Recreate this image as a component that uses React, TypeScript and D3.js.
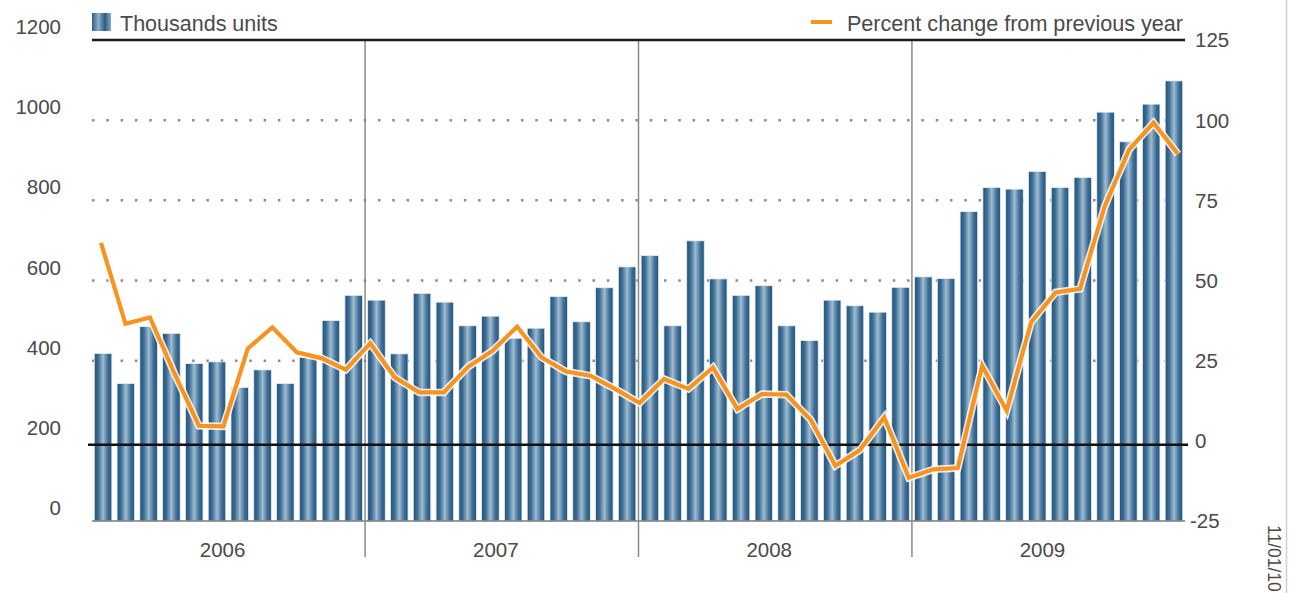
import React from "react";
import * as d3 from "d3";

const years = ["2006", "2007", "2008", "2009"];
const monthNames = ["Jan", "Feb", "Mar", "Apr", "May", "Jun", "Jul", "Aug", "Sep", "Oct", "Nov", "Dec"];
const months = years.flatMap((y) => monthNames.map((m) => `${m} ${y}`));

// Thousands units (bars)
const unitsThousands = [
  418, 343, 485, 468, 393, 397, 333, 377, 343, 408, 500, 563,
  551, 417, 568, 546, 487, 511, 456, 481, 560, 497, 582, 634,
  662, 487, 699, 604, 563, 587, 487, 450, 551, 537, 521, 583,
  609, 605, 772, 832, 828, 872, 832, 857, 1020, 946, 1040, 1098,
];

// Percent change from previous year (line, 45 points)
const pctChange = [
  61.7, 36.5, 38.5, 21, 4.7, 4.5, 28.8, 35.4, 27.6, 25.8, 22.2, 30.4,
  19.8, 15.1, 15.1, 23.1, 28.1, 35.6, 26, 21.6, 20.3, 16.2, 11.8,
  19.3, 16.2, 22.9, 9.9, 14.6, 14.4, 6.5, -7.8, -2.9, 7.3,
  -11.5, -8.9, -8.5, 23.4, 9.4, 37, 46.3, 47.4, 73, 90.8, 99.2, 89.4,
];

const leftTicks = [0, 200, 400, 600, 800, 1000, 1200];
const rightTicks = [-25, 0, 25, 50, 75, 100, 125];
const gridTicks = [25, 50, 75, 100];

const legendBars = "Thousands units";
const legendLine = "Percent change from previous year";
const dateStamp = "11/01/10";

const FONT = "'Liberation Sans', Arial, Helvetica, sans-serif";
const TEXT = "#4a4a4a";
const ORANGE = "#f7931e";

export default function App() {
  const W = 1290, H = 593;
  const plotL = 92, plotR = 1185, plotT = 40, plotB = 521;

  const x = d3.scaleBand<string>().domain(months).range([plotL, plotR]).paddingInner(0.23).paddingOuter(0.1);
  const yL = d3.scaleLinear().domain([0, 1200]).range([plotB, plotT]);
  const yR = d3.scaleLinear().domain([-25, 125]).range([plotB, plotT]);
  const xLine = d3.scaleLinear().domain([0, pctChange.length - 1]).range([101, 1178]);
  const lineGen = d3.line<number>().x((_, i) => xLine(i)).y((d) => yR(d));
  const linePath = lineGen(pctChange) || "";

  const gapHalf = (x.step() * x.paddingInner()) / 2;
  const seps = years.slice(1).map((_, k) => (x(months[12 * (k + 1)]) as number) - gapHalf);
  const bounds = [plotL, ...seps, plotR];
  const zeroY = yR(0) + 4;

  return (
    <svg width={W} height={H} style={{ position: "absolute", left: 0, top: 0, background: "#fff" }} fontFamily={FONT}>
      <defs>
        <linearGradient id="barGrad" x1="0" x2="1" y1="0" y2="0">
          <stop offset="0%" stopColor="#22547d" />
          <stop offset="22%" stopColor="#3a6b93" />
          <stop offset="50%" stopColor="#9fbcd1" />
          <stop offset="78%" stopColor="#3f6f96" />
          <stop offset="100%" stopColor="#22547d" />
        </linearGradient>
        <linearGradient id="legGrad" x1="0" x2="0.34" y1="0" y2="0" spreadMethod="reflect">
          <stop offset="0%" stopColor="#2a5c85" />
          <stop offset="100%" stopColor="#8fb0c8" />
        </linearGradient>
      </defs>

      {/* right border */}
      <line x1={1286.5} x2={1286.5} y1={0} y2={H} stroke="#cfcfcf" strokeWidth={1.5} />

      {/* dotted gridlines */}
      {gridTicks.map((t) => (
        <line key={t} x1={plotL} x2={plotR} y1={yR(t)} y2={yR(t)} stroke="#8a8a8a" strokeWidth={2.5} strokeDasharray="2.5,11.8" />
      ))}

      {/* bars */}
      {unitsThousands.map((v, i) => (
        <rect
          key={i}
          x={x(months[i])}
          y={yL(v)}
          width={x.bandwidth()}
          height={yL(0) - yL(v)}
          fill="url(#barGrad)"
          stroke="#e6edf2"
          strokeWidth={0.8}
        />
      ))}

      {/* bottom axis */}
      <line x1={plotL} x2={plotR} y1={plotB} y2={plotB} stroke="#7a7a7a" strokeWidth={1.5} />

      {/* year separators */}
      {seps.map((sx, k) => (
        <line key={k} x1={sx} x2={sx} y1={plotT} y2={557} stroke="#8a8a8a" strokeWidth={1.5} />
      ))}

      {/* top line */}
      <line x1={plotL} x2={plotR} y1={plotT} y2={plotT} stroke="#1a1a1a" strokeWidth={2.5} />
      {/* zero line */}
      <line x1={88} x2={1188} y1={zeroY} y2={zeroY} stroke="#111" strokeWidth={2.5} />

      {/* percent line */}
      <path d={linePath} fill="none" stroke="#fff" strokeOpacity={0.85} strokeWidth={7.5} strokeLinejoin="miter" />
      <path d={linePath} fill="none" stroke={ORANGE} strokeWidth={4.2} strokeLinejoin="miter" />

      {/* left axis labels */}
      {leftTicks.map((t) => (
        <text key={t} x={61} y={yL(t) - 6} textAnchor="end" fontSize={20.5} fill={TEXT}>
          {t}
        </text>
      ))}

      {/* right axis labels */}
      {rightTicks.map((t) => (
        <text key={t} x={t < 0 ? 1190 : 1195} y={yR(t)} dy="0.36em" textAnchor="start" fontSize={20.5} fill={TEXT}>
          {t}
        </text>
      ))}

      {/* year labels */}
      {years.map((yr, k) => (
        <text key={yr} x={(bounds[k] + bounds[k + 1]) / 2 - 6} y={557} textAnchor="middle" fontSize={20.5} fill={TEXT}>
          {yr}
        </text>
      ))}

      {/* legend */}
      <rect x={92} y={13} width={19} height={18} fill="url(#legGrad)" />
      <text x={120} y={30.5} fontSize={21.5} fill={TEXT}>{legendBars}</text>
      <line x1={811} x2={832} y1={22} y2={22} stroke={ORANGE} strokeWidth={4} />
      <text x={1183} y={30.5} textAnchor="end" fontSize={21.6} fill={TEXT}>{legendLine}</text>

      {/* date stamp */}
      <text transform="translate(1268,525) rotate(90)" fontSize={17.5} fill={TEXT}>
        {dateStamp}
      </text>
    </svg>
  );
}
